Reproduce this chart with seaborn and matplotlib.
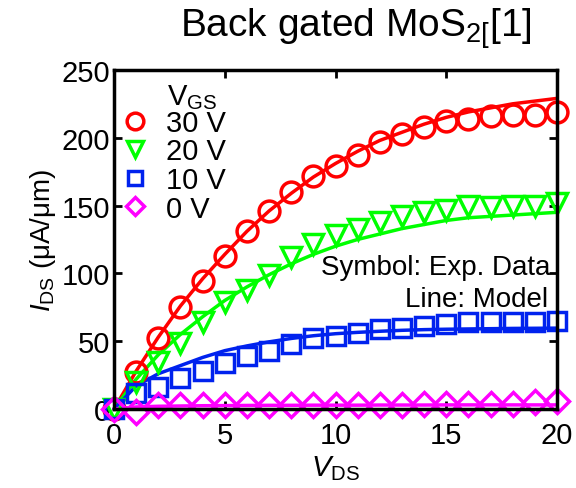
import matplotlib
matplotlib.use("Agg")
import matplotlib.pyplot as plt
import numpy as np
import pandas as pd
import seaborn as sns

sns.set_style("ticks")
plt.rcParams['font.family'] = ['Liberation Sans', 'DejaVu Sans']
plt.rcParams['mathtext.fontset'] = 'custom'
plt.rcParams['mathtext.rm'] = 'Liberation Sans'
plt.rcParams['mathtext.it'] = 'Liberation Sans:italic'
plt.rcParams['text.color'] = 'black'
plt.rcParams['axes.labelcolor'] = 'black'
plt.rcParams['xtick.color'] = 'black'
plt.rcParams['ytick.color'] = 'black'
plt.rcParams['axes.edgecolor'] = 'black'

# measured (symbols) and model (lines), V_DS = 0..20 V
vds = list(range(21))
exp_30 = [0, 27, 52, 75, 94, 113, 131, 146, 160, 172, 179, 187, 197, 203, 208, 212, 214, 216, 217, 217, 219]
exp_20 = [0, 20, 35, 49, 64, 79, 88, 99, 112, 122, 128, 133, 138, 142, 145, 147, 150, 149, 150, 150, 152]
exp_10 = [0, 12, 16, 23, 28, 34, 39, 43, 48, 52, 54, 56, 59, 60, 61, 63, 64, 64, 64, 64, 65]
exp_0 = [0, -2, 3, 3, 3, 3, 3, 3, 3, 3, 3, 3, 3, 3, 4, 4, 4, 4, 4, 5, 6]

mod_30 = [0, 28, 53, 76, 96, 114, 131, 146, 159, 171, 181, 190, 198, 204, 210, 215, 219, 222, 225, 227, 229]
mod_20 = [0, 22, 40, 55, 68, 80, 90, 99, 107, 114, 120, 125, 129, 133, 136, 139, 141, 142, 143, 144, 145]
mod_10 = [0, 17, 26, 32, 38, 43, 46.5, 49.5, 52, 54, 55.5, 56.5, 57.3, 58, 58.5, 58.8, 59, 59.2, 59.4, 59.5, 59.6]
mod_0 = [0, 1.5, 2, 2.2, 2.4, 2.5, 2.6, 2.7, 2.7, 2.8, 2.8, 2.8, 2.9, 2.9, 2.9, 3, 3, 3, 3, 3, 3]

labels = ["30 V", "20 V", "10 V", "0 V"]
colors = ["#ff0000", "#00ff00", "#0022ee", "#ff00ff"]
markers = ["o", "v", "s", "D"]
msizes = [15, 15, 13, 12]
exp_all = [exp_30, exp_20, exp_10, exp_0]
mod_all = [mod_30, mod_20, mod_10, mod_0]

fig = plt.figure(figsize=(5.76, 4.89), dpi=100)
ax = fig.add_axes([0.198, 0.1616, 0.769, 0.6934])

for lab, c, m, ms, e, md in zip(labels, colors, markers, msizes, exp_all, mod_all):
    df = pd.DataFrame({"x": vds, "exp": e, "model": md})
    sns.lineplot(data=df, x="x", y="model", color=c, lw=2.5, ax=ax,
                 label="_nolegend_", clip_on=False, zorder=3)
    sns.lineplot(data=df, x="x", y="exp", color=c, linestyle="", marker=m,
                 markersize=ms, markerfacecolor="none", markeredgecolor=c,
                 markeredgewidth=2.5, ax=ax, label=lab, clip_on=False, zorder=4)

ax.set_xlim(0, 20)
ax.set_ylim(0, 250)
ax.set_xticks([0, 5, 10, 15, 20])
ax.set_yticks([0, 50, 100, 150, 200, 250])
ax.tick_params(direction="in", top=True, right=True, length=6, width=2,
               labelsize=21)
ax.tick_params(axis="x", pad=9)
ax.tick_params(axis="y", pad=3)
for s in ax.spines.values():
    s.set_linewidth(2.5)
    s.set_zorder(5)

ax.set_xlabel(r"$V_{\rm DS}$", fontsize=21, labelpad=3)
ax.set_ylabel(r"$I_{\rm DS}$ (μA/μm)", fontsize=20, labelpad=2)

leg = ax.legend(loc="upper left", bbox_to_anchor=(0.015, 0.885), frameon=False,
                fontsize=21, handlelength=1.0, markerscale=0.8,
                handletextpad=0.55, labelspacing=0.02, borderaxespad=0.0,
                borderpad=0.0)
ax.text(0.12, 0.965, r"V$_{\rm GS}$", transform=ax.transAxes, fontsize=21,
        ha="left", va="top")

ax.text(19.7, 105, "Symbol: Exp. Data", fontsize=20, ha="right", va="center")
ax.text(19.6, 81, "Line: Model", fontsize=20, ha="right", va="center")

fig.text(0.617, 0.924, r"Back gated MoS$_{2[}$[1]", fontsize=28, ha="center",
         va="baseline")

fig.savefig("out.png", dpi=100)
